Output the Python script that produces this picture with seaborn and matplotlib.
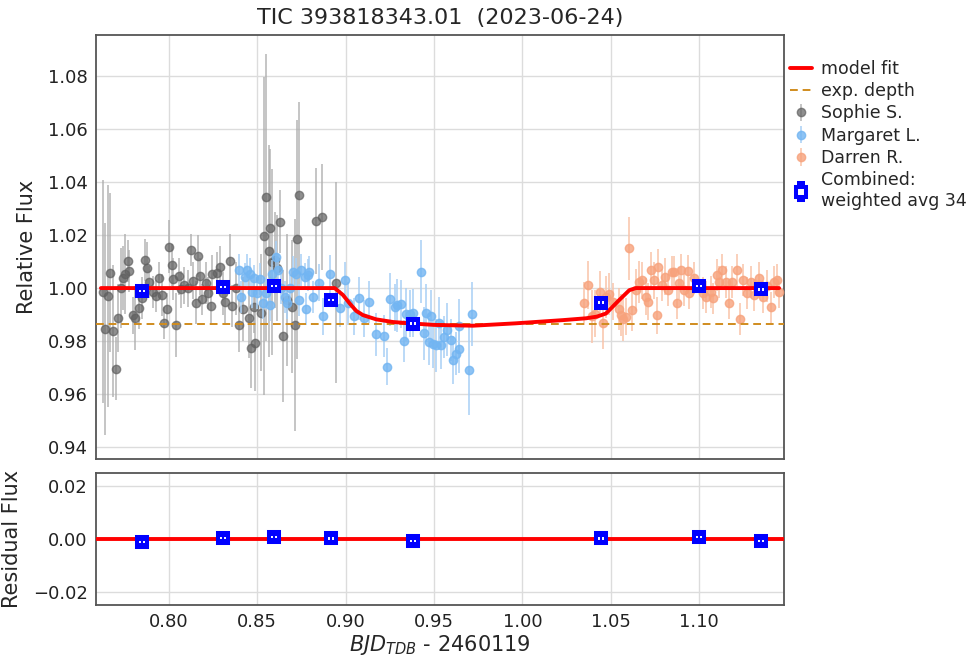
import matplotlib
matplotlib.use("Agg")
import matplotlib.pyplot as plt
from matplotlib.ticker import MultipleLocator
import numpy as np
import seaborn as sns

# Sophie S. (gray)
sophie_t = [0.7625, 0.7640, 0.7657, 0.7667, 0.7682, 0.7700, 0.7714, 0.7729, 0.7738, 0.7753,
            0.7767, 0.7776, 0.7795, 0.7810, 0.7832, 0.7847, 0.7863, 0.7876, 0.7889, 0.7908,
            0.7927, 0.7945, 0.7964, 0.7973, 0.7987, 0.8002, 0.8017, 0.8026, 0.8040, 0.8058,
            0.8070, 0.8087, 0.8106, 0.8124, 0.8137, 0.8153, 0.8166, 0.8177, 0.8190, 0.8209,
            0.8220, 0.8236, 0.8247, 0.8273, 0.8288, 0.8307, 0.8316, 0.8345, 0.8356, 0.8382,
            0.8397, 0.8420, 0.8454, 0.8467, 0.8480, 0.8486, 0.8524, 0.8537, 0.8552, 0.8567,
            0.8575, 0.8586, 0.8599, 0.8612, 0.8631, 0.8646, 0.8668, 0.8699, 0.8712, 0.8725,
            0.8736, 0.8834, 0.8868, 0.8944]
sophie_f = [0.9986, 0.9845, 0.9970, 1.0058, 0.9838, 0.9696, 0.9887, 1.0000, 1.0038, 1.0053,
            1.0103, 1.0065, 0.9898, 0.9886, 0.9924, 0.9962, 1.0106, 1.0075, 1.0024, 0.9986,
            0.9970, 1.0037, 0.9974, 0.9868, 0.9920, 1.0156, 1.0087, 1.0034, 0.9860, 1.0045,
            0.9995, 1.0011, 0.9999, 1.0143, 1.0028, 0.9945, 1.0120, 1.0045, 0.9957, 1.0020,
            0.9980, 0.9932, 1.0055, 1.0058, 1.0080, 0.9980, 0.9948, 1.0103, 0.9932, 0.9999,
            0.9860, 0.9920, 0.9886, 0.9772, 0.9930, 0.9791, 0.9907, 1.0196, 1.0342, 1.0141,
            1.0225, 1.0099, 1.0106, 1.0074, 1.0251, 0.9819, 0.9955, 0.9930, 0.9860, 1.0184,
            1.0351, 1.0254, 1.0269, 1.0020]
sophie_e = [0.042, 0.040, 0.042, 0.030, 0.025, 0.012, 0.013, 0.015, 0.012, 0.015,
            0.008, 0.008, 0.007, 0.012, 0.008, 0.008, 0.008, 0.010, 0.006, 0.006,
            0.006, 0.006, 0.008, 0.006, 0.006, 0.010, 0.008, 0.008, 0.012, 0.007,
            0.007, 0.007, 0.007, 0.006, 0.007, 0.008, 0.008, 0.007, 0.006, 0.008,
            0.006, 0.007, 0.007, 0.008, 0.008, 0.008, 0.008, 0.010, 0.008, 0.010,
            0.010, 0.012, 0.015, 0.015, 0.010, 0.018, 0.022, 0.060, 0.054, 0.040,
            0.030, 0.035, 0.018, 0.020, 0.012, 0.025, 0.025, 0.025, 0.040, 0.045,
            0.035, 0.020, 0.020, 0.038]

# Margaret L. (blue)
margaret_t = [0.8397, 0.8410, 0.8430, 0.8445, 0.8458, 0.8473, 0.8480, 0.8499, 0.8518, 0.8533,
              0.8552, 0.8571, 0.8586, 0.8605, 0.8618, 0.8637, 0.8655, 0.8668, 0.8684, 0.8702,
              0.8718, 0.8736, 0.8750, 0.8768, 0.8774, 0.8787, 0.8793, 0.8815, 0.8849, 0.8872,
              0.8910, 0.8966, 0.8994, 0.9013, 0.9045, 0.9075, 0.9102, 0.9132, 0.9173, 0.9215,
              0.9233, 0.9249, 0.9277, 0.9290, 0.9315, 0.9330, 0.9339, 0.9362, 0.9381, 0.9428,
              0.9441, 0.9456, 0.9471, 0.9484, 0.9493, 0.9512, 0.9527, 0.9541, 0.9559, 0.9572,
              0.9597, 0.9610, 0.9625, 0.9640, 0.9644, 0.9696, 0.9716]
margaret_f = [1.0068, 0.9967, 1.0043, 1.0068, 1.0055, 0.9986, 1.0037, 0.9980, 1.0033, 0.9942,
              0.9980, 0.9936, 1.0055, 1.0118, 1.0070, 0.9999, 0.9967, 0.9942, 0.9999, 1.0062,
              1.0055, 0.9955, 1.0068, 1.0043, 0.9920, 1.0049, 1.0062, 0.9967, 1.0020, 0.9894,
              1.0053, 0.9923, 1.0030, 0.9942, 0.9894, 0.9961, 0.9886, 0.9948, 0.9825, 0.9819,
              0.9703, 0.9957, 0.9927, 0.9936, 0.9940, 0.9800, 0.9902, 0.9904, 0.9907, 1.0062,
              0.9830, 0.9907, 0.9798, 0.9894, 0.9789, 0.9785, 0.9867, 0.9785, 0.9816, 0.9842,
              0.9804, 0.9728, 0.9753, 0.9857, 0.9769, 0.9691, 0.9902]
margaret_e = [0.006, 0.006, 0.005, 0.006, 0.006, 0.006, 0.005, 0.006, 0.006, 0.006,
              0.006, 0.006, 0.005, 0.006, 0.006, 0.006, 0.006, 0.006, 0.005, 0.006,
              0.006, 0.006, 0.006, 0.005, 0.006, 0.006, 0.006, 0.006, 0.007, 0.007,
              0.007, 0.007, 0.007, 0.008, 0.007, 0.008, 0.007, 0.008, 0.008, 0.008,
              0.007, 0.010, 0.009, 0.010, 0.009, 0.008, 0.010, 0.009, 0.009, 0.012,
              0.010, 0.011, 0.009, 0.010, 0.009, 0.010, 0.010, 0.009, 0.008, 0.010,
              0.008, 0.009, 0.008, 0.010, 0.009, 0.017, 0.012]

# Darren R. (orange)
darren_t = [1.0350, 1.0369, 1.0394, 1.0412, 1.0439, 1.0454, 1.0473, 1.0488, 1.0510, 1.0544,
            1.0558, 1.0571, 1.0586, 1.0605, 1.0620, 1.0642, 1.0661, 1.0676, 1.0699, 1.0713,
            1.0727, 1.0746, 1.0759, 1.0770, 1.0789, 1.0808, 1.0821, 1.0849, 1.0859, 1.0872,
            1.0887, 1.0900, 1.0915, 1.0938, 1.0944, 1.0972, 1.1019, 1.1038, 1.1066, 1.1081,
            1.1100, 1.1113, 1.1132, 1.1151, 1.1169, 1.1188, 1.1213, 1.1232, 1.1250, 1.1269,
            1.1292, 1.1311, 1.1339, 1.1363, 1.1386, 1.1405, 1.1424, 1.1439, 1.1452]
darren_f = [0.9942, 1.0011, 0.9894, 0.9904, 0.9986, 0.9869, 0.9967, 0.9977, 0.9948, 0.9920,
            0.9898, 0.9882, 0.9892, 1.0150, 0.9917, 0.9992, 1.0024, 1.0030, 0.9967, 0.9948,
            1.0068, 1.0030, 0.9898, 1.0078, 1.0011, 1.0043, 0.9992, 1.0062, 1.0062, 0.9942,
            1.0018, 1.0068, 0.9992, 1.0065, 0.9980, 1.0037, 0.9980, 0.9967, 0.9986, 0.9961,
            1.0049, 1.0024, 1.0068, 1.0024, 0.9942, 1.0024, 1.0068, 0.9882, 1.0030, 0.9980,
            1.0024, 0.9974, 1.0037, 0.9965, 1.0008, 0.9927, 1.0024, 1.0030, 0.9986]
darren_e = [0.008, 0.009, 0.010, 0.009, 0.008, 0.010, 0.008, 0.008, 0.007, 0.008,
            0.008, 0.008, 0.007, 0.012, 0.008, 0.008, 0.008, 0.007, 0.007, 0.007,
            0.007, 0.007, 0.007, 0.007, 0.006, 0.007, 0.006, 0.006, 0.006, 0.006,
            0.006, 0.006, 0.006, 0.006, 0.006, 0.006, 0.006, 0.006, 0.006, 0.006,
            0.006, 0.006, 0.006, 0.006, 0.006, 0.006, 0.006, 0.006, 0.006, 0.006,
            0.006, 0.006, 0.006, 0.006, 0.006, 0.006, 0.006, 0.006, 0.006]

# combined binned points
bin_t = [0.7850, 0.8305, 0.8593, 0.8915, 0.9379, 1.0446, 1.1000, 1.1350]
bin_f = [0.9990, 1.0004, 1.0008, 0.9956, 0.9866, 0.9945, 1.0009, 0.9995]
bin_e = [0.0012, 0.0012, 0.0012, 0.0012, 0.0012, 0.0012, 0.0012, 0.0012]
bin_res = [-0.0011, 0.0004, 0.0007, 0.0002, -0.0008, 0.0002, 0.0007, -0.0008]

# model curve
model_t = [0.7616, 0.8938, 0.8985, 0.9023, 0.9060, 0.9098, 0.9173, 0.9267, 0.9362, 0.9500,
           0.9720, 0.9963, 1.0228, 1.0360, 1.0420, 1.0473, 1.0548, 1.0605, 1.0642, 1.1452]
model_f = [1.0000, 1.0000, 0.9974, 0.9942, 0.9914, 0.9898, 0.9882, 0.9872, 0.9867, 0.9861,
           0.9858, 0.9867, 0.9879, 0.9886, 0.9892, 0.9904, 0.9955, 0.9992, 1.0000, 1.0000]
exp_depth = 0.9865

sns.set_theme(style="whitegrid")
plt.rcParams['font.family'] = ['DejaVu Sans']

fig = plt.figure(figsize=(9.72, 6.58), dpi=100)
ax1 = fig.add_axes([96/972, 1 - 459/658, 688/972, 424/658])
ax2 = fig.add_axes([96/972, 1 - 605/658, 688/972, 132/658], sharex=ax1)

for ax in (ax1, ax2):
    ax.grid(True, color='#dcdcdc', lw=1.0)
    for sp in ax.spines.values():
        sp.set_edgecolor('#555555')
        sp.set_linewidth(1.3)
    ax.tick_params(labelsize=13, colors='#222222', length=0, pad=6)

ax1.errorbar(sophie_t, sophie_f, yerr=sophie_e, fmt='o', ms=6, color='#606060',
             ecolor='#acacac', elinewidth=1.4, alpha=0.7, label='Sophie S.', zorder=2)
ax1.errorbar(margaret_t, margaret_f, yerr=margaret_e, fmt='o', ms=6, color='#72b5f2',
             ecolor='#a9d0f5', elinewidth=1.4, alpha=0.8, label='Margaret L.', zorder=3)
ax1.errorbar(darren_t, darren_f, yerr=darren_e, fmt='o', ms=6, color='#f7a27c',
             ecolor='#f9c4aa', elinewidth=1.4, alpha=0.8, label='Darren R.', zorder=3)

sns.lineplot(x=model_t, y=model_f, ax=ax1, color='red', lw=2.8, label='model fit', zorder=6)
ax1.axhline(exp_depth, color='#d08c1e', lw=1.4, ls=(0, (4, 2.5)), label='exp. depth', zorder=5)


def binned(ax, y, label=None):
    c = ax.errorbar(bin_t, y, yerr=bin_e, fmt='s', ms=6.8, mfc='white', mec='blue', mew=2.9,
                    ecolor='blue', elinewidth=1.5, capsize=3, capthick=1.5,
                    label=label, zorder=10)
    for art in list(c[1]) + list(c[2]):
        art.set_zorder(11)
    return c


binned(ax1, bin_f, 'Combined:\nweighted avg 34')
ax2.axhline(0.0, color='red', lw=2.8, zorder=5)
binned(ax2, bin_res)

ax1.set_xlim(0.7588, 1.148)
ax1.set_ylim(0.9355, 1.0955)
ax1.yaxis.set_major_locator(MultipleLocator(0.02))
ax1.xaxis.set_major_locator(MultipleLocator(0.05))
ax1.tick_params(labelbottom=False)
ax2.set_ylim(-0.025, 0.025)
ax2.set_yticks([-0.02, 0.0, 0.02])

ax1.set_ylabel('Relative Flux', fontsize=15, labelpad=8)
ax2.set_ylabel('Residual Flux', fontsize=15, labelpad=8)
ax2.set_xlabel(r'$BJD_{TDB}$ - 2460119', fontsize=15, labelpad=1)
ax1.set_title('TIC 393818343.01  (2023-06-24)', fontsize=16, pad=8)

handles, labels = ax1.get_legend_handles_labels()
order = ['model fit', 'exp. depth', 'Sophie S.', 'Margaret L.', 'Darren R.', 'Combined:\nweighted avg 34']
hmap = dict(zip(labels, handles))
ax1.legend([hmap[k] for k in order], order, loc='upper left', bbox_to_anchor=(1.003, 0.95),
           frameon=False, fontsize=12.5, handlelength=1.3, handletextpad=0.5,
           labelspacing=0.25, borderaxespad=0, borderpad=0.2)

fig.savefig('out.png', dpi=100)
